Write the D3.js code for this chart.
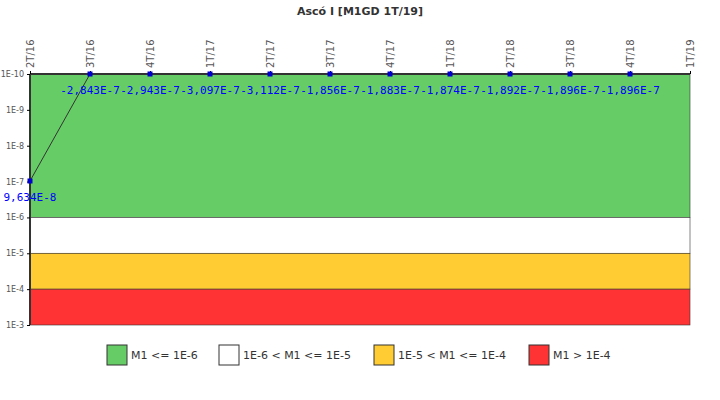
<!DOCTYPE html>
<html><head><meta charset="utf-8">
<script src="https://cdn.jsdelivr.net/npm/d3@7"></script>
<style>body{margin:0;background:#fff}svg{font-family:"DejaVu Sans",sans-serif}</style>
</head><body><svg id="c" width="720" height="400"></svg>
<script>
const categories = ['2T/16','3T/16','4T/16','1T/17','2T/17','3T/17','4T/17','1T/18','2T/18','3T/18','4T/18','1T/19'];
const values = [9.634e-8,-2.843e-7,-2.943e-7,-3.097e-7,-3.112e-7,-1.856e-7,-1.883e-7,-1.874e-7,-1.892e-7,-1.896e-7,-1.896e-7,null];
const labels = ['9,634E-8','-2,843E-7','-2,943E-7','-3,097E-7','-3,112E-7','-1,856E-7','-1,883E-7','-1,874E-7','-1,892E-7','-1,896E-7','-1,896E-7',null];
const yTicks = [1e-10,1e-9,1e-8,1e-7,1e-6,1e-5,1e-4,1e-3];
const yTickLabels = ['1E-10','1E-9','1E-8','1E-7','1E-6','1E-5','1E-4','1E-3'];
const bands = [
  {from:1e-10,to:1e-6,color:'#66cc66',name:'M1 <= 1E-6'},
  {from:1e-6,to:1e-5,color:'#ffffff',name:'1E-6 < M1 <= 1E-5'},
  {from:1e-5,to:1e-4,color:'#ffcc33',name:'1E-5 < M1 <= 1E-4'},
  {from:1e-4,to:1e-3,color:'#ff3333',name:'M1 > 1E-4'}
];

const svg = d3.select('#c');
const x = d3.scalePoint().domain(categories).range([30,690]);
const y = d3.scaleLog().domain([1e-10,1e-3]).range([74,325]).clamp(true);
const yv = v => v > 0 ? y(v) : y(1e-10);

svg.append('text').attr('x',360).attr('y',15).attr('text-anchor','middle')
  .attr('font-size',11).attr('font-weight','bold').attr('fill','#333').text('Ascó I [M1GD 1T/19]');

svg.selectAll('rect.band').data(bands).enter().append('rect')
  .attr('x',30).attr('width',660)
  .attr('y',d=>y(d.from)).attr('height',d=>y(d.to)-y(d.from))
  .attr('fill',d=>d.color).attr('stroke','#333').attr('stroke-width',0.6);

svg.append('line').attr('x1',30).attr('x2',690).attr('y1',74).attr('y2',74).attr('stroke','#333').attr('stroke-width',2);
svg.append('line').attr('x1',30).attr('x2',30).attr('y1',74).attr('y2',325).attr('stroke','#333').attr('stroke-width',2);

const ya = svg.append('g').attr('transform','translate(30,0)')
  .call(d3.axisLeft(y).tickValues(yTicks).tickFormat((d,i)=>yTickLabels[i]).tickSize(3));
ya.select('.domain').remove();
ya.selectAll('text').attr('font-size',8).attr('fill','#555').attr('font-family','"DejaVu Sans"');

const xa = svg.append('g').attr('transform','translate(0,74)')
  .call(d3.axisTop(x).tickSize(3));
xa.select('.domain').remove();
xa.selectAll('text').attr('font-size',10).attr('fill','#555').attr('font-family','"DejaVu Sans"')
  .attr('transform','rotate(-90)').attr('text-anchor','start').attr('x',6).attr('y',0).attr('dy','0.35em');

const pts = categories.map((c,i)=>({c,v:values[i],l:labels[i]})).filter(d=>d.v!==null);
svg.append('path').datum(pts).attr('fill','none').attr('stroke','#333').attr('stroke-width',1)
  .attr('d',d3.line().x(d=>x(d.c)).y(d=>yv(d.v)));
svg.selectAll('rect.pt').data(pts).enter().append('rect')
  .attr('x',d=>x(d.c)-2.5).attr('y',d=>yv(d.v)-2.5).attr('width',5).attr('height',5).attr('fill','#0000cc');
svg.selectAll('text.lbl').data(pts).enter().append('text')
  .attr('x',d=>x(d.c)).attr('y',d=>yv(d.v)+20).attr('text-anchor','middle')
  .attr('font-family','"DejaVu Sans Mono",monospace').attr('font-size',11).attr('fill','#0000ff').text(d=>d.l);

const leg = svg.append('g');
const lx = [107,219,374,529];
bands.forEach((b,i)=>{
  const g = leg.append('g').attr('transform',`translate(${lx[i]},345)`);
  g.append('rect').attr('width',20).attr('height',20).attr('fill',b.color).attr('stroke','#333');
  g.append('text').attr('x',24).attr('y',14).attr('font-size',11).attr('fill','#333').text(b.name);
});
</script></body></html>
